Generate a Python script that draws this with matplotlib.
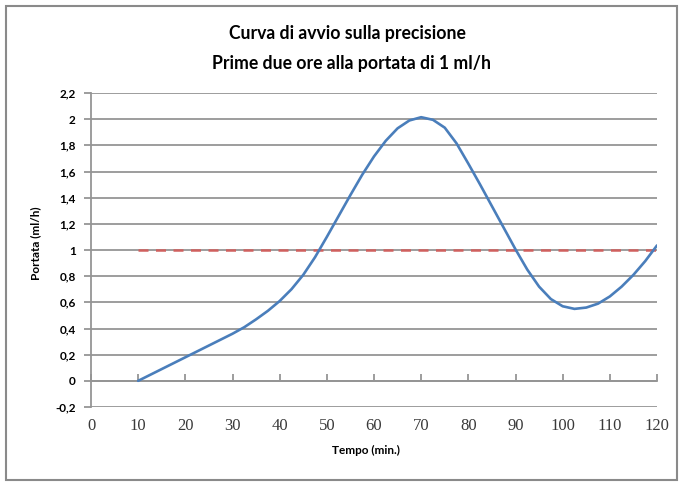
import matplotlib.pyplot as plt
from matplotlib.patches import Rectangle

# readings from the chart (minutes, ml/h)
tempo = [10, 12.5, 15, 17.5, 20, 22.5, 25, 27.5, 30, 32.5, 35, 37.5, 40, 42.5,
         45, 47.5, 50, 52.5, 55, 57.5, 60, 62.5, 65, 67.5, 70, 72.5, 75, 77.5,
         80, 82.5, 85, 87.5, 90, 92.5, 95, 97.5, 100, 102.5, 105, 107.5, 110,
         112.5, 115, 117.5, 120]
portata = [0, 0.045, 0.09, 0.135, 0.18, 0.225, 0.27, 0.315, 0.36, 0.41, 0.47,
           0.535, 0.61, 0.70, 0.81, 0.945, 1.10, 1.26, 1.42, 1.575, 1.715, 1.835,
           1.93, 1.99, 2.015, 1.995, 1.935, 1.815, 1.66, 1.50, 1.335, 1.17, 1.005,
           0.85, 0.72, 0.625, 0.57, 0.55, 0.56, 0.59, 0.645, 0.72, 0.81,
           0.915, 1.035]
target_x = [10, 120]
target_y = [1, 1]

x_ticks = list(range(0, 121, 10))
y_ticks = [-0.2, 0, 0.2, 0.4, 0.6, 0.8, 1, 1.2, 1.4, 1.6, 1.8, 2, 2.2]
y_labels = ['-0,2', '0', '0,2', '0,4', '0,6', '0,8', '1', '1,2', '1,4',
            '1,6', '1,8', '2', '2,2']

plt.rcParams['font.family'] = ['Lato', 'DejaVu Sans']

fig = plt.figure(figsize=(6.84, 4.83), dpi=100)
ax = fig.add_axes([91 / 684, 1 - 407 / 483, (657 - 91) / 684, (407 - 93) / 483])

grid_col = '#959595'
for y in y_ticks:
    ax.axhline(y, color=grid_col, lw=1.3, zorder=1)

ax.plot(target_x, target_y, color='#d0605e', lw=1.8, dashes=(4, 3), zorder=2)
ax.plot(tempo, portata, color='#4a7ebb', lw=1.9, zorder=3,
        solid_capstyle='round', solid_joinstyle='round')

ax.set_xlim(0, 120)
ax.set_ylim(-0.2, 2.2)

for s in ['top', 'right']:
    ax.spines[s].set_visible(False)
ax.spines['left'].set_color(grid_col)
ax.spines['left'].set_linewidth(1.3)
ax.spines['bottom'].set_position(('data', 0))
ax.spines['bottom'].set_color(grid_col)
ax.spines['bottom'].set_linewidth(1.3)

ax.set_yticks(y_ticks)
ax.set_yticklabels(y_labels, fontsize=8.5, fontweight='bold')
ax.tick_params(axis='y', direction='out', length=5, width=1.3, color=grid_col, pad=6)

ax.set_xticks(x_ticks)
ax.set_xticklabels([str(t) for t in x_ticks], fontsize=12, color='#3a3a3a',
                   family=['Liberation Serif', 'DejaVu Serif'])
ax.tick_params(axis='x', direction='in', length=5, width=1.3, color=grid_col, pad=27)

fig.text(366 / 684, 1 - 450 / 483, 'Tempo (min.)', ha='center', va='center',
         fontsize=8.5, fontweight='bold')
fig.text(36 / 684, 1 - 243 / 483, 'Portata (ml/h)', ha='center', va='center',
         rotation=90, fontsize=8.5, fontweight='bold')

fig.text(347 / 684, 1 - 33 / 483, 'Curva di avvio sulla precisione',
         ha='center', va='center', fontsize=12.7, fontweight='bold')
fig.text(352 / 684, 1 - 64 / 483, 'Prime due ore alla portata di 1 ml/h',
         ha='center', va='center', fontsize=12.7, fontweight='bold')

fig.patches.append(Rectangle((6 / 684, 1 - 480 / 483), 671 / 684, 474 / 483,
                             transform=fig.transFigure, fill=False,
                             edgecolor='#8a8a8a', lw=1.5))

fig.savefig('out.png', dpi=100)
